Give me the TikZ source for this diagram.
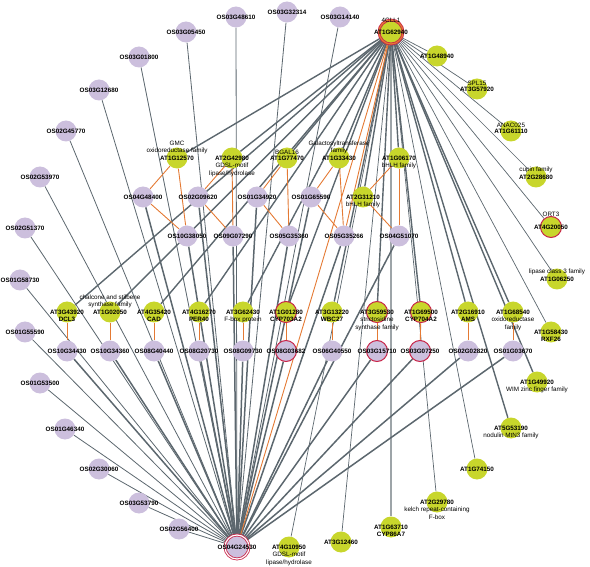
\documentclass[tikz,border=0pt]{standalone}
\usepackage{fontspec}
\setmainfont{Liberation Sans}
\usetikzlibrary{backgrounds,positioning}
\definecolor{osfill}{RGB}{204,191,221}
\definecolor{atfill}{RGB}{200,214,44}
\definecolor{hitred}{RGB}{200,36,72}
\definecolor{edgegray}{RGB}{92,103,110}
\definecolor{orthoorange}{RGB}{228,122,52}

\begin{document}
\begin{tikzpicture}[
				x=1pt,y=-1pt,
				gene/.style={circle,minimum size=21pt,inner sep=0pt},
				osgene/.style={gene,fill=osfill},
				atgene/.style={gene,fill=atfill},
				hit/.style={draw=hitred,line width=1pt},
				hub/.style={draw=hitred,line width=0.8pt,double distance=1.2pt,minimum size=24pt},
				genelbl/.style={font=\fontsize{6.3}{7.5}\selectfont\bfseries,inner sep=0pt},
				ann/.style={font=\fontsize{6.3}{7.5}\selectfont,align=center,inner sep=0pt},
				coexp/.style={draw=edgegray,line width=1pt},
				ortho/.style={draw=orthoorange,line width=0.9pt}
				]
				\useasboundingbox (0,0) rectangle (590,567);
				
				% rice genes
				\foreach \n/\x/\y in {OS03G48610/236/17,OS03G32314/287/12,OS03G14140/340/17,OS03G05450/186/32,
					OS03G01800/139/57,OS03G12680/99/90,OS02G45770/66/131,OS02G53970/40/177,OS02G51370/25/228,
					OS01G58730/20/280,OS01G55590/25/332,OS01G53500/40/383,OS01G46340/65/429,OS02G30060/99/469,
					OS03G53790/139/503,OS02G56400/179/529,OS04G48400/143/197,OS02G09620/198/197,OS01G34920/257/197,
					OS01G65590/311/197,OS10G38050/187/236,OS09G07290/233/236,OS05G35360/289/236,OS05G35266/344/236,
					OS04G51070/399/236,OS10G34430/67/351,OS10G34360/110/351,OS08G40440/154/351,OS08G20730/199/351,
					OS08G09730/243/351,OS06G40550/332/351,OS02G02820/468/351,OS01G03670/513/351}
				\node[osgene,label={[genelbl]center:\n}] (\n) at (\x,\y) {};
				\foreach \n/\x/\y in {OS08G03682/286/351,OS03G15710/377/351,OS03G07250/420/351}
				\node[osgene,hit,label={[genelbl]center:\n}] (\n) at (\x,\y) {};
				\node[osgene,hub,double=white,label={[genelbl]center:OS04G24530}] (OS04G24530) at (237,547) {};
				
				% arabidopsis genes
				\foreach \n/\x/\y in {AT1G48940/437/56,AT3G57920/477/89,AT1G61110/511/131,AT2G28680/536/177,
					AT1G06250/557/279,AT1G58430/551/332,AT1G49920/537/382,AT5G53190/511/428,AT1G74150/477/469,
					AT2G29780/437/502,AT1G63710/391/527,AT3G12460/341/542,AT4G10950/289/547,AT1G68540/513/312,
					AT2G16910/468/312,AT3G13220/332/312,AT3G62430/243/312,AT4G16270/199/312,AT4G35420/154/312,
					AT1G02050/110/312,AT3G43920/67/312,AT1G12570/177/158,AT2G42980/232/158,AT1G77470/287/158,
					AT1G33430/339/158,AT1G06170/399/158,AT2G31210/363/197}
				\node[atgene,label={[genelbl]center:\n}] (\n) at (\x,\y) {};
				\foreach \n/\x/\y in {AT4G20050/551/227,AT1G69500/421/312,AT3G59530/377/312,AT1G01280/286/312}
				\node[atgene,hit,label={[genelbl]center:\n}] (\n) at (\x,\y) {};
				\node[atgene,hub,double=orthoorange,label={[genelbl]center:AT1G62940}] (AT1G62940) at (391,32) {};
				
				% annotations
				\node[ann,above=9pt] (AT1G62940-a) at (AT1G62940.center) {4CLL1};
				\node[ann,above=10pt] (AT4G20050-a) at (AT4G20050.center) {ORT3};
				\foreach \n/\t in {AT3G57920/SPL15,AT1G61110/ANAC025,AT2G28680/cupin family,
					AT1G06250/lipase class 3 family,AT1G77470/BGAL16,AT1G12570/{GMC\\oxidoreductase family},
					AT1G33430/{Galactosyltransferase\\family},AT1G02050/{chalcone and stilbene\\synthase family}}
				\node[ann,above=3.5pt] (\n-a) at (\n.center) {\t};
				\foreach \n/\t in {AT1G58430/\textbf{RXF26},AT1G49920/WIM zinc finger family,AT5G53190/nodulin MtN3 family,
					AT2G29780/{kelch repeat-containing\\F-box},AT1G63710/\textbf{CYP86A7},AT4G10950/{GDSL-motif\\lipase/hydrolase},
					AT1G68540/{oxidoreductase\\family},AT2G16910/\textbf{AMS},AT1G69500/\textbf{CYP704A2},
					AT3G59530/{strictosidine\\synthase family},AT3G13220/\textbf{WBC27},AT1G01280/\textbf{CYP703A2},
					AT3G62430/F-box protein,AT4G16270/\textbf{PER40},AT4G35420/\textbf{CAD},AT3G43920/\textbf{DCL3},
					AT2G42980/{GDSL-motif\\lipase/hydrolase},AT1G06170/bHLH family,AT2G31210/bHLH family}
				\node[ann,below=5pt] (\n-a) at (\n.center) {\t};
				
				\begin{scope}[on background layer]
					% co-expression
					\foreach \t in {AT1G48940,AT3G57920,AT1G61110,AT2G28680,AT4G20050,AT1G06250,AT1G58430,
						AT1G74150,AT2G29780,AT3G12460,AT4G10950}
					\draw[coexp,line width=0.7pt] (AT1G62940) -- (\t);
					\draw[coexp,line width=1.8pt,draw=edgegray!60] (AT1G62940) -- (AT1G63710);
					\foreach \t in {AT1G49920,AT5G53190,AT1G68540,AT2G16910,AT1G69500,AT3G59530,AT3G13220,
						AT1G01280,AT3G62430,AT4G16270,AT4G35420,AT1G02050,AT3G43920,AT1G12570,AT2G42980,
						AT1G77470,AT1G33430,AT1G06170,AT2G31210}
					\draw[coexp,line width=1.4pt] (AT1G62940) -- (\t);
					\foreach \t in {OS03G48610,OS03G32314,OS03G14140,OS03G05450,OS03G01800,OS03G12680,
						OS02G45770,OS02G53970,OS02G51370,OS01G58730,OS01G55590,OS01G53500,OS01G46340,
						OS02G30060,OS03G53790,OS02G56400}
					\draw[coexp,line width=0.8pt] (OS04G24530) -- (\t);
					\foreach \t in {OS04G48400,OS02G09620,OS01G34920,OS01G65590,OS10G38050,OS09G07290,
						OS05G35360,OS05G35266,OS04G51070,OS10G34430,OS10G34360,OS08G40440,OS08G20730,
						OS08G09730,OS08G03682,OS06G40550,OS03G15710,OS03G07250,OS02G02820,OS01G03670}
					\draw[coexp,line width=1.5pt] (OS04G24530) -- (\t);
					
					% orthologs
					\foreach \a/\b in {AT1G12570/OS04G48400,AT1G12570/OS10G38050,OS04G48400/OS10G38050,
						AT2G42980/OS02G09620,AT2G42980/OS09G07290,OS02G09620/OS09G07290,
						AT1G77470/OS01G34920,AT1G77470/OS05G35360,OS01G34920/OS05G35360,
						AT1G33430/OS01G65590,AT1G33430/OS05G35266,OS01G65590/OS05G35266,
						AT1G06170/AT2G31210,AT1G06170/OS04G51070,AT2G31210/OS04G51070,
						AT3G43920/OS10G34430,AT1G02050/OS10G34360,AT4G35420/OS08G40440,AT4G16270/OS08G20730,
						AT3G62430/OS08G09730,AT1G01280/OS08G03682,AT3G13220/OS06G40550,AT3G59530/OS03G15710,
						AT1G69500/OS03G07250,AT2G16910/OS02G02820,AT1G68540/OS01G03670,
						AT1G62940/OS05G35266,AT1G62940/OS04G24530}
					\draw[ortho] (\a) -- (\b);
				\end{scope}
				
			\end{tikzpicture}
\end{document}
